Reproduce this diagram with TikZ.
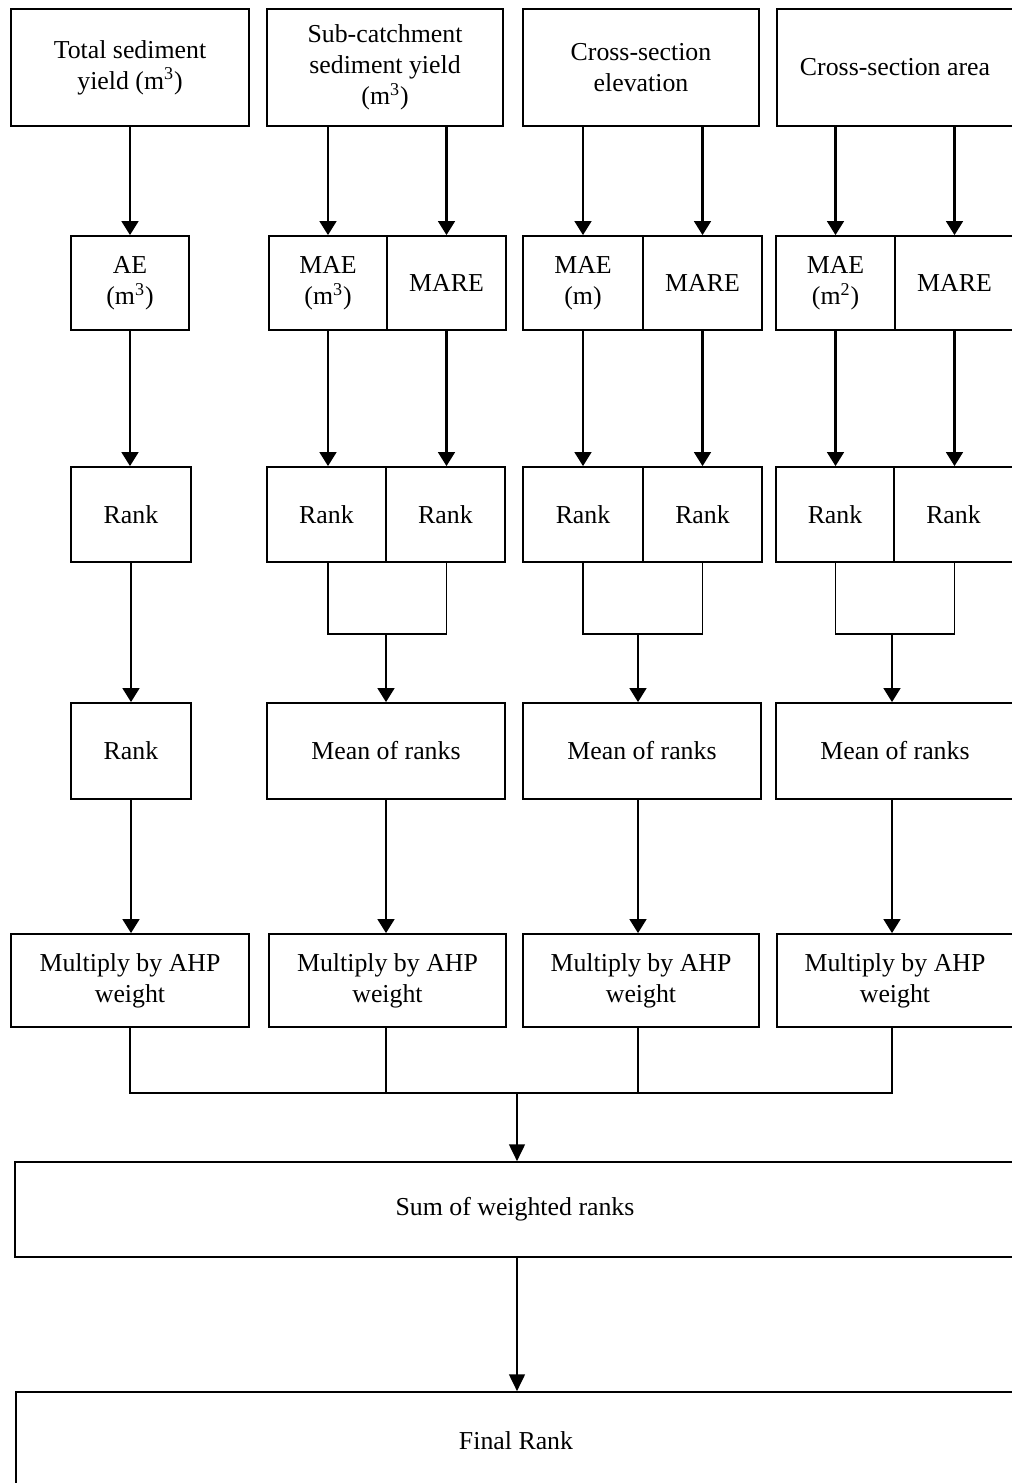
\documentclass[tikz,border=0pt]{standalone}
\usepackage{fontspec}
\setmainfont{Liberation Serif}
\usetikzlibrary{arrows.meta}
\begin{document}
\begin{tikzpicture}[x=0.02cm,y=-0.02cm,
  blk/.style={draw,line width=1pt,align=center,inner sep=1pt,font=\fontsize{14.7}{17.6}\selectfont},
  arr/.style={-{Triangle[width=9.5pt,length=8pt]},line width=1.5pt},
  thinarr/.style={-{Triangle[width=9pt,length=9.5pt]},line width=0.9pt},
  lnk/.style={line width=0.9pt}]
\useasboundingbox (0,0) rectangle (1011,1483);

% inputs
\node[blk,minimum width=4.76cm,minimum height=2.34cm] (tsy) at (130,67.5) {Total sediment\\yield (m\textsuperscript{3})};
\node[blk,minimum width=4.72cm,minimum height=2.34cm] (scy) at (385,67.5) {Sub-catchment\\sediment yield\\(m\textsuperscript{3})};
\node[blk,minimum width=4.72cm,minimum height=2.34cm] (cse) at (641,67.5) {Cross-section\\elevation};
\node[blk,minimum width=4.72cm,minimum height=2.34cm] (csa) at (895,67.5) {Cross-section area};

% error measures
\node[blk,minimum width=2.36cm,minimum height=1.88cm] (ae) at (130,283) {AE\\(m\textsuperscript{3})};
\node[blk,minimum width=2.36cm,minimum height=1.88cm] (bmae) at (328,283) {MAE\\(m\textsuperscript{3})};
\node[blk,minimum width=2.38cm,minimum height=1.88cm] (bmare) at (446.5,283) {MARE};
\node[blk,minimum width=2.4cm,minimum height=1.88cm] (cmae) at (583,283) {MAE\\(m)};
\node[blk,minimum width=2.38cm,minimum height=1.88cm] (cmare) at (702.5,283) {MARE};
\node[blk,minimum width=2.38cm,minimum height=1.88cm] (dmae) at (835.5,283) {MAE\\(m\textsuperscript{2})};
\node[blk,minimum width=2.38cm,minimum height=1.88cm] (dmare) at (954.5,283) {MARE};

% ranks
\node[blk,minimum width=2.4cm,minimum height=1.9cm] (ark) at (131,514.5) {Rank};
\node[blk,minimum width=2.38cm,minimum height=1.9cm] (brka) at (326.5,514.5) {Rank};
\node[blk,minimum width=2.38cm,minimum height=1.9cm] (brkb) at (445.5,514.5) {Rank};
\node[blk,minimum width=2.4cm,minimum height=1.9cm] (crka) at (583,514.5) {Rank};
\node[blk,minimum width=2.38cm,minimum height=1.9cm] (crkb) at (702.5,514.5) {Rank};
\node[blk,minimum width=2.36cm,minimum height=1.9cm] (drka) at (835,514.5) {Rank};
\node[blk,minimum width=2.38cm,minimum height=1.9cm] (drkb) at (953.5,514.5) {Rank};

% mean of ranks
\node[blk,minimum width=2.4cm,minimum height=1.92cm] (arkb) at (131,751) {Rank};
\node[blk,minimum width=4.76cm,minimum height=1.92cm] (bmean) at (386,751) {Mean of ranks};
\node[blk,minimum width=4.76cm,minimum height=1.92cm] (cmean) at (642,751) {Mean of ranks};
\node[blk,minimum width=4.76cm,minimum height=1.92cm] (dmean) at (895,751) {Mean of ranks};

% weighting
\node[blk,minimum width=4.76cm,minimum height=1.86cm] (amul) at (130,980.5) {Multiply by AHP\\weight};
\node[blk,minimum width=4.74cm,minimum height=1.86cm] (bmul) at (387.5,980.5) {Multiply by AHP\\weight};
\node[blk,minimum width=4.72cm,minimum height=1.86cm] (cmul) at (641,980.5) {Multiply by AHP\\weight};
\node[blk,minimum width=4.72cm,minimum height=1.86cm] (dmul) at (895,980.5) {Multiply by AHP\\weight};

\node[blk,minimum width=20cm,minimum height=1.9cm] (sum) at (515,1209.5) {Sum of weighted ranks};
\node[blk,minimum width=20cm,minimum height=1.96cm] (final) at (516,1441) {Final Rank};

\coordinate (bj) at (386,634);
\coordinate (cj) at (638,634);
\coordinate (dj) at (892,634);
\coordinate (jn) at (517,1093);

% column 1
\draw[arr] (tsy.south) -- (ae.north);
\draw[arr] (ae.south) -- (ae.south |- ark.north);
\draw[arr] (ark.south) -- (ark.south |- arkb.north);
\draw[arr] (arkb.south) -- (arkb.south |- amul.north);

% columns 2-4
\draw[arr] (bmae.north |- scy.south) -- (bmae.north);
\draw[arr] (bmare.north |- scy.south) -- (bmare.north);
\draw[arr] (cmae.north |- cse.south) -- (cmae.north);
\draw[arr] (cmare.north |- cse.south) -- (cmare.north);
\draw[arr] (dmae.north |- csa.south) -- (dmae.north);
\draw[arr] (dmare.north |- csa.south) -- (dmare.north);

\draw[arr] (bmae.south) -- (bmae.south |- brka.north);
\draw[arr] (bmare.south) -- (bmare.south |- brkb.north);
\draw[arr] (cmae.south) -- (cmae.south |- crka.north);
\draw[arr] (cmare.south) -- (cmare.south |- crkb.north);
\draw[arr] (dmae.south) -- (dmae.south |- drka.north);
\draw[arr] (dmare.south) -- (dmare.south |- drkb.north);

\draw[lnk] (bmae.south |- brka.south) |- (bj) -| (bmare.south |- brkb.south);
\draw[lnk] (cmae.south |- crka.south) |- (cj) -| (cmare.south |- crkb.south);
\draw[lnk] (dmae.south |- drka.south) |- (dj) -| (dmare.south |- drkb.south);
\draw[arr] (bj) -- (bmean.north);
\draw[arr] (cj) -- (cj |- cmean.north);
\draw[arr] (dj) -- (dj |- dmean.north);

\draw[arr] (bmean.south) -- (bmean.south |- bmul.north);
\draw[arr] (cj |- cmean.south) -- (cj |- cmul.north);
\draw[arr] (dj |- dmean.south) -- (dj |- dmul.north);

% combine
\draw[lnk] (amul.south) -- (amul.south |- jn) -- (dj |- jn) -- (dj |- dmul.south);
\draw[lnk] (bmean.south |- bmul.south) -- (bmean.south |- jn);
\draw[lnk] (cj |- cmul.south) -- (cj |- jn);
\draw[thinarr] (jn) -- (jn |- sum.north);
\draw[thinarr] (jn |- sum.south) -- (jn |- final.north);
\end{tikzpicture}
\end{document}
